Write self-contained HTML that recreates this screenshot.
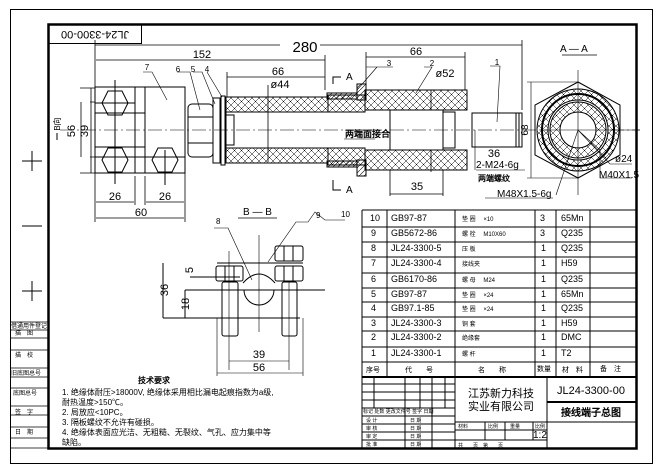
<!DOCTYPE html>
<html><head><meta charset="utf-8"><style>
html,body{margin:0;padding:0;background:#fff;}
svg{display:block;font-family:"Liberation Sans","WenQuanYi Zen Hei",sans-serif;}
</style></head><body>
<svg width="663" height="470" viewBox="0 0 663 470" xmlns="http://www.w3.org/2000/svg">
<defs>
<pattern id="hx" width="7" height="7" patternUnits="userSpaceOnUse">
<path d="M0 0L7 7M7 0L0 7" stroke="#000" stroke-width="0.5"/>
</pattern>
<pattern id="hs" width="5" height="5" patternUnits="userSpaceOnUse">
<path d="M0 5L5 0" stroke="#000" stroke-width="0.6"/>
</pattern>
</defs>
<rect width="663" height="470" fill="#fff"/>
<rect x="10.5" y="9.5" width="642" height="454" fill="none" stroke="#000" stroke-width="1"/>
<rect x="48.5" y="24.5" width="588" height="424" fill="none" stroke="#000" stroke-width="2.5"/>
<rect x="48.5" y="24.5" width="93" height="19" fill="none" stroke="#000" stroke-width="1"/>
<text x="95" y="34" font-size="11" text-anchor="middle" transform="rotate(180 95 34)" dominant-baseline="middle">JL24-3300-00</text>
<g stroke="#000" stroke-width="1">
<path d="M22 161H42M32 151V171M22 226H42M22 291H42M32 281V301"/>
</g>
<g stroke="#000" stroke-width="0.8" fill="none">
<path d="M10 322H48M10 330H48M10 338H48M10 350H48M10 368H48M10 377H48M10 388H48M10 406H48M10 415H48M10 427H48M10 438H48M10 448H48"/>
</g>
<g font-size="6" fill="#000">
<text x="11" y="328">借通用件登记</text><text x="15" y="335">描　图</text><text x="15" y="357">描　校</text>
<text x="11" y="375">旧底图总号</text><text x="13" y="395">底图总号</text><text x="15" y="414">签　字</text><text x="15" y="434">日　期</text>
</g>
<g stroke="#000" stroke-width="0.8" fill="none">
<path d="M95 45H280M320 45H522M95 40V88M522 40V110"/>
<path d="M96 60H325M325 55V90M227 77H325M227 72V97M366 57H465M366 52V90M465 52V90"/>
<path d="M95 88V222M185 88V222M135 176V205M145 176V205M96 202H134M146 202H184M96 218H184"/>
<path d="M80 88H95M80 173H95M91 173V88M90 102H95M90 157H95M81 102V157"/>
<path d="M390 170V196M443 170V196M390 194H443M268 85V162M431 90V172"/>
</g>
<g font-size="11" fill="#000" text-anchor="middle">
<text x="305" y="52" font-size="15">280</text>
<text x="202" y="58">152</text><text x="278" y="75">66</text><text x="416" y="55">66</text>
<text x="115" y="200">26</text><text x="165" y="200">26</text><text x="141" y="216">60</text>
<text x="417" y="190">35</text><text x="280" y="88">ø44</text><text x="445" y="77">ø52</text>
<text x="494" y="157">36</text>
</g>
<text x="75" y="131" font-size="11" transform="rotate(-90 75 131)" text-anchor="middle">56</text>
<text x="88" y="131" font-size="11" transform="rotate(-90 88 131)" text-anchor="middle">39</text>
<text x="60" y="124" font-size="8" transform="rotate(-90 60 124)" text-anchor="middle">B向</text>
<path d="M57 133V140" stroke="#000"/>
<g stroke="#000" stroke-width="1" fill="none">
<rect x="95" y="87" width="90" height="86"/>
<path d="M135 87V173M145 87V173M95 113H135M95 147H135M95 103H135M95 157H185"/>
<rect x="135" y="113" width="10" height="34"/>
<polygon points="102,103 108,91 122,91 128,103 122,115 108,115"/>
<polygon points="102,160 108,148 122,148 128,160 122,172 108,172"/>
<polygon points="152,160 158,148 172,148 178,160 172,172 158,172"/>
<path d="M115 80V184M165 150V185"/>
<rect x="188" y="104" width="25" height="53" rx="4"/>
<path d="M188 117H213M188 143H213"/>
<rect x="213" y="98" width="7" height="65"/>
<rect x="221" y="96" width="4" height="69"/>
</g>
<g stroke="#000" stroke-width="1">
<rect x="226" y="97" width="102" height="15" fill="url(#hx)"/>
<rect x="226" y="148" width="102" height="15" fill="url(#hx)"/>
<rect x="365" y="90" width="102" height="20" fill="url(#hx)"/>
<rect x="365" y="150" width="102" height="20" fill="url(#hx)"/>
<rect x="328" y="95" width="37" height="17" fill="url(#hx)"/>
<rect x="328" y="148" width="37" height="17" fill="url(#hx)"/>
<rect x="327" y="93" width="30" height="6" fill="url(#hs)"/>
<rect x="327" y="161" width="30" height="6" fill="url(#hs)"/>
<rect x="357" y="84" width="9" height="16" fill="url(#hs)"/>
<rect x="357" y="160" width="9" height="16" fill="url(#hs)"/>
<rect x="390" y="110" width="53" height="40" fill="#fff"/>
<path d="M443 110V150M443 112H455V148H443M226 112V148M226 115H234V145H226" fill="none"/>
<rect x="472" y="113" width="50" height="34" fill="#fff"/>
<path d="M516 113V147M519 113V147" fill="none"/>
</g>
<path d="M60 130H640" stroke="#000" stroke-width="0.6" stroke-dasharray="14 3 2 3"/>
<text x="345" y="137" font-size="9" font-weight="bold">两端面接合</text>
<path d="M344 139H375" stroke="#000" stroke-width="0.6"/>
<g stroke="#000" fill="none" stroke-width="1"><path d="M333 84V77H341M333 180V190H341"/></g>
<text x="346" y="80" font-size="10">A</text><text x="346" y="193" font-size="10">A</text>
<g stroke="#000" stroke-width="0.6" fill="none">
<path d="M143 72H152L167 100M177 72H190L200 110M193 72H202L215 104M207 72L222 97"/>
<path d="M366 67H393M377 67L357 90M424 67H432L416 93M490 66H500L497 122"/>
<path d="M476 170H525M475 130V170M553 198H485"/>
</g>
<g font-size="8" text-anchor="middle"><text x="147" y="70">7</text><text x="178" y="72">6</text><text x="193" y="72">5</text><text x="207" y="72">4</text>
<text x="389" y="66">3</text><text x="432" y="66">2</text><text x="497" y="65">1</text></g>
<text x="476" y="168" font-size="10">2-M24-6g</text>
<text x="478" y="181" font-size="8" font-weight="bold">两端螺纹</text>
<text x="497" y="197" font-size="10">M48X1.5-6g</text>
<text x="560" y="52" font-size="10">A — A</text>
<path d="M562 55H597" stroke="#000" stroke-width="0.7"/>
<g stroke="#000" stroke-width="1" fill="none">
<polygon points="578,82 620,105 620,155 578,178 535,155 535,105"/>
<circle cx="578" cy="130" r="41" fill="url(#hx)"/>
<circle cx="578" cy="130" r="36" stroke-width="2"/>
<circle cx="578" cy="130" r="30" fill="#fff"/>
<circle cx="578" cy="130" r="28" fill="url(#hx)"/>
<circle cx="578" cy="130" r="18" fill="#fff"/>
<path d="M578 70V195M540 130H640M527 82H578M527 178H578M531 82V178" stroke-width="0.6"/>
<path d="M556 195L578 130L600 150V178H632M578 130L610 164H632" stroke-width="0.6"/>
</g>
<text x="528" y="130" font-size="10" transform="rotate(-90 528 130)" text-anchor="middle">68</text>
<text x="615" y="162" font-size="10">ø24</text>
<text x="599" y="178" font-size="10">M40X1.5</text>
<text x="243" y="215" font-size="10">B — B</text>
<path d="M238 218H277" stroke="#000" stroke-width="0.7"/>
<g stroke="#000" stroke-width="1" fill="none">
<path d="M217 263H303M185 290H325M163 263V318M163 318H300M185 290V318M190 277H240"/>
<rect x="216" y="266" width="27" height="15" rx="2"/>
<rect x="275" y="266" width="28" height="15" rx="2"/>
<rect x="275" y="246" width="28" height="15" rx="2"/>
<path d="M225 266V281M234 266V281M284 266V281M293 266V281M284 246V261M293 246V261"/>
<rect x="222" y="282" width="16" height="54" rx="2"/>
<rect x="282" y="282" width="15" height="54" rx="2"/>
<path d="M244 290A15 15 0 0 0 274 290M243 283Q259 265 275 283"/>
<path d="M259 235V332M229 251V370M289 282V370M217 318V376M303 318V376M229 361H289M217 373H303" stroke-width="0.6"/>
<path d="M214 228H228L252 280M268 262L296 222H308L315 212L325 220H345" stroke-width="0.6"/>
</g>
<text x="168" y="290" font-size="11" transform="rotate(-90 168 290)" text-anchor="middle">36</text>
<text x="189" y="304" font-size="11" transform="rotate(-90 189 304)" text-anchor="middle">18</text>
<text x="193" y="270" font-size="11" transform="rotate(-90 193 270)" text-anchor="middle">5</text>
<text x="259" y="358" font-size="11" text-anchor="middle">39</text>
<text x="259" y="371" font-size="11" text-anchor="middle">56</text>
<text x="216" y="224" font-size="8">8</text><text x="316" y="218" font-size="8">9</text><text x="341" y="217" font-size="8">10</text>
<g font-size="8" fill="#000">
<text x="138" y="383" font-weight="bold">技术要求</text>
<text x="62" y="395">1. 绝缘体耐压&gt;18000V, 绝缘体采用相比漏电起痕指数为a级,</text>
<text x="62" y="405">耐热温度&gt;150℃。</text>
<text x="62" y="415">2. 局放应&lt;10PC。</text>
<text x="62" y="425">3. 隔板螺纹不允许有碰损。</text>
<text x="62" y="435">4. 绝缘体表面应光洁、无粗糙、无裂纹、气孔、应力集中等</text>
<text x="62" y="445">缺陷。</text>
</g>
<g stroke="#000" stroke-width="1" fill="none">
<path d="M362 210H636M362 227H636M362 242H636M362 257H636M362 273H636M362 288H636M362 302H636M362 317H636M362 331H636M362 347H636M362 362H636"/>
<path d="M362 210V448M387 210V377M455 210V448M535 210V377M556 210V377M590 210V377"/>
<path d="M362 377H636" stroke-width="2"/>
<path d="M547 377V422M547 402H636M547 422V448M455 422H636M455 430H547M455 440H547M505 422V440M485 422V440M533 422V440"/>
<path d="M362 384H455M362 392H455M362 400H455M362 408H455M362 416H455M362 424H455M362 432H455M362 440H455M374 377V408M405 377V448M420 377V408M432 377V448M445 377V408"/>
</g>
<path d="M547 402H636" stroke="#000" stroke-width="2"/>
<g font-size="9" fill="#000">
<text x="370" y="221">10</text><text x="391" y="221">GB97-87</text><text x="462" y="221" font-size="6">垫 圈　 ×10</text><text x="540" y="221">3</text><text x="561" y="221">65Mn</text>
<text x="371" y="236">9</text><text x="391" y="236">GB5672-86</text><text x="462" y="236" font-size="6">螺 栓　 M10X60</text><text x="540" y="236">3</text><text x="561" y="236">Q235</text>
<text x="371" y="251">8</text><text x="391" y="251">JL24-3300-5</text><text x="462" y="251" font-size="6">压 板</text><text x="541" y="251">1</text><text x="561" y="251">Q235</text>
<text x="371" y="266">7</text><text x="391" y="266">JL24-3300-4</text><text x="462" y="266" font-size="6">接线夹</text><text x="541" y="266">1</text><text x="561" y="266">H59</text>
<text x="371" y="282">6</text><text x="391" y="282">GB6170-86</text><text x="462" y="282" font-size="6">螺 母　 M24</text><text x="541" y="282">1</text><text x="561" y="282">Q235</text>
<text x="371" y="297">5</text><text x="391" y="297">GB97-87</text><text x="462" y="297" font-size="6">垫 圈　 ×24</text><text x="541" y="297">1</text><text x="561" y="297">65Mn</text>
<text x="371" y="311">4</text><text x="391" y="311">GB97.1-85</text><text x="462" y="311" font-size="6">垫 圈　 ×24</text><text x="541" y="311">1</text><text x="561" y="311">Q235</text>
<text x="371" y="326">3</text><text x="391" y="326">JL24-3300-3</text><text x="462" y="326" font-size="6">铜 套</text><text x="541" y="326">1</text><text x="561" y="326">H59</text>
<text x="371" y="340">2</text><text x="391" y="340">JL24-3300-2</text><text x="462" y="340" font-size="6">绝缘套</text><text x="541" y="340">1</text><text x="561" y="340">DMC</text>
<text x="371" y="356">1</text><text x="391" y="356">JL24-3300-1</text><text x="462" y="356" font-size="6">螺 杆</text><text x="541" y="356">1</text><text x="561" y="356">T2</text>
<text x="366" y="372" font-size="7">序号</text><text x="405" y="372" font-size="7">代　　号</text><text x="478" y="372" font-size="7">名　　称</text><text x="537" y="371" font-size="7">数量</text><text x="562" y="372" font-size="7">材　料</text><text x="600" y="371" font-size="7">备　注</text>
</g>
<g fill="#000">
<text x="501" y="397" font-size="11" text-anchor="middle">江苏新力科技</text>
<text x="501" y="410" font-size="11" text-anchor="middle">实业有限公司</text>
<text x="591" y="394" font-size="11" text-anchor="middle">JL24-3300-00</text>
<text x="591" y="416" font-size="10" text-anchor="middle" font-weight="bold">接线端子总图</text>
<text x="533" y="438" font-size="10">1:2</text>
<g font-size="5"><text x="458" y="428">材料</text><text x="488" y="428">比例</text><text x="510" y="428">重量</text><text x="535" y="428">比例</text>
<text x="363" y="413">标记 处数 更改文件号 签字 日期</text><text x="366" y="422">设 计</text><text x="366" y="430">审 核</text><text x="366" y="438">审 定</text><text x="366" y="446">批 准</text>
<text x="410" y="422">日 期</text><text x="410" y="430">日 期</text><text x="410" y="438">日 期</text><text x="410" y="446">日 期</text>
<text x="458" y="447">共　　页　第　　页</text></g>
</g>
</svg>
</body></html>
